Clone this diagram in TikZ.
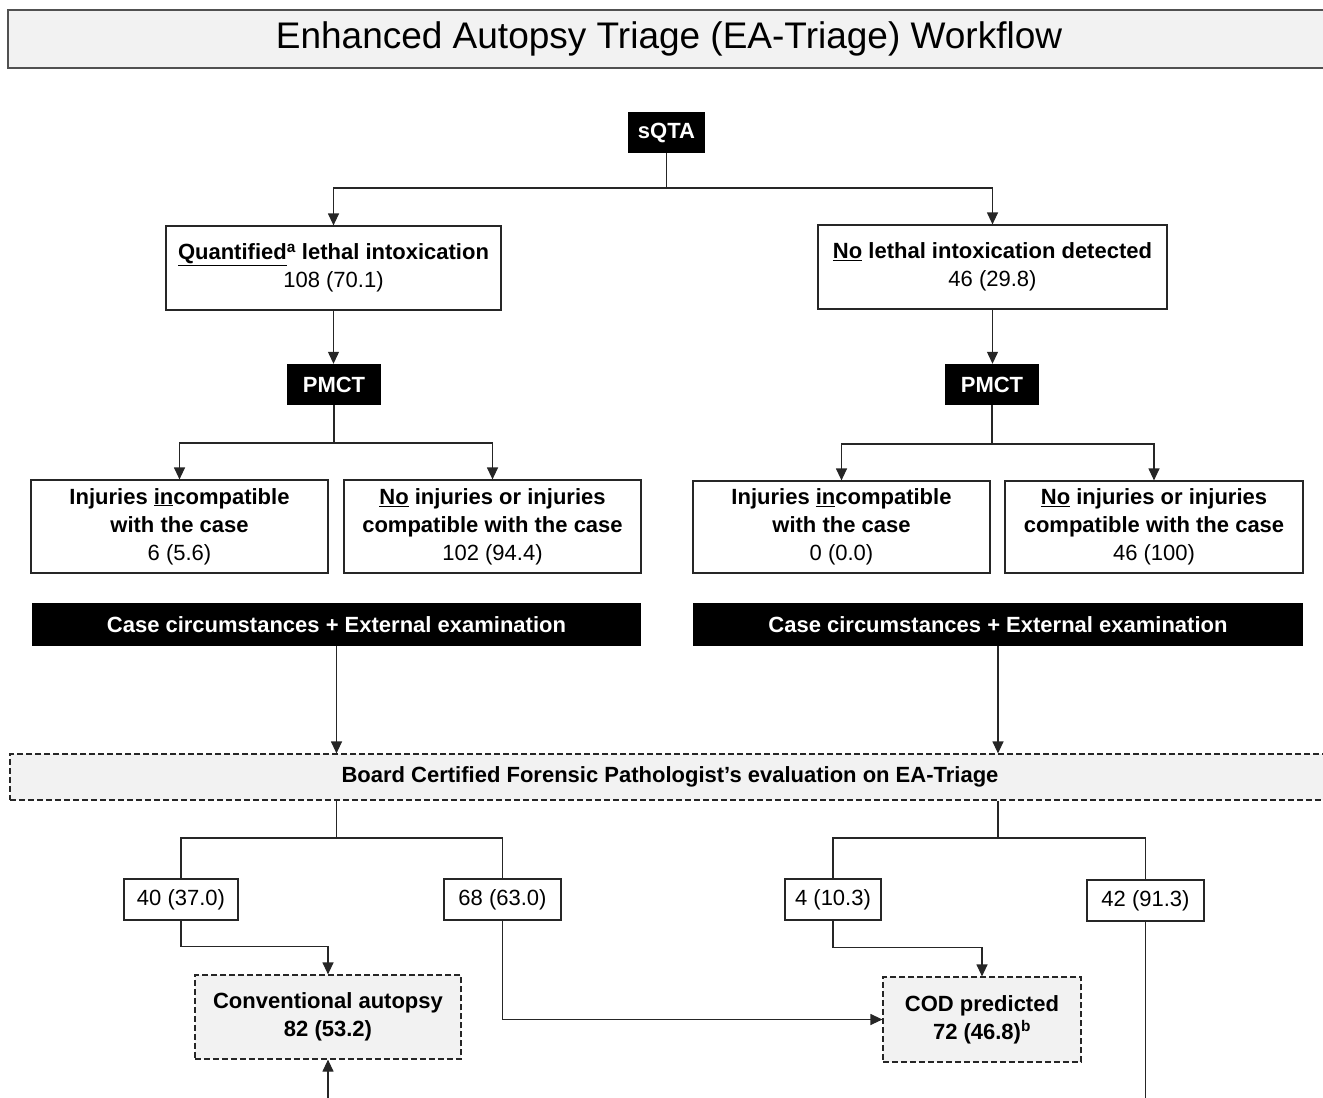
\documentclass[tikz,border=0pt]{standalone}
\usepackage{fontspec}
\setmainfont{Liberation Sans}
\usepackage{tikz}
\usetikzlibrary{arrows.meta,positioning}
\definecolor{boxgray}{HTML}{F2F2F2}
\definecolor{linegray}{HTML}{262626}
\tikzset{
  txt/.style={font=\fontsize{22}{28}\selectfont, inner sep=0pt, align=center},
  wbox/.style={txt, font=\fontsize{22}{28}\selectfont\bfseries, draw=linegray, line width=1.2pt, fill=white},
  numbox/.style={txt, draw=linegray, line width=1.2pt, fill=white, minimum height=41pt},
  bbox/.style={txt, font=\fontsize{22}{28}\selectfont\bfseries, fill=black, text=white, minimum height=41pt},
  gbox/.style={txt, font=\fontsize{22}{28}\selectfont\bfseries, draw=linegray, line width=1.2pt,
    dash pattern=on 6pt off 3pt, fill=boxgray},
  titlebox/.style={txt, font=\fontsize{37}{44}\selectfont, draw=linegray!80, line width=1.4pt, fill=boxgray,
    minimum width=1322pt, minimum height=58pt},
  ln/.style={draw=linegray, line width=1.2pt},
  arr/.style={ln, -{Triangle[length=12pt,width=11pt]}}
}
\begin{document}
\begin{tikzpicture}[x=1pt,y=-1pt]
  \useasboundingbox (0,0) rectangle (1323,1098);
  \node[titlebox] (title) at (669,39) {Enhanced Autopsy Triage (EA-Triage) Workflow};

  \node[bbox, minimum width=77pt] (sqta) at (666.5,132.5) {sQTA};
  \node[wbox, minimum width=335pt, minimum height=84pt] (quant) at (333.5,268)
    {\underline{Quantified}\textsuperscript{a} lethal intoxication\\{\mdseries 108 (70.1)}};
  \node[wbox, minimum width=349pt, minimum height=84pt] (nolethal) at (992.5,267)
    {\underline{No} lethal intoxication detected\\{\mdseries 46 (29.8)}};

  \node[bbox, minimum width=94pt] (pmctL) at (334,384.5) {PMCT};
  \node[bbox, minimum width=94pt] (pmctR) at (992,384.5) {PMCT};

  \node[wbox, minimum width=297pt, minimum height=93pt] (injL1) at (179.5,526.5)
    {Injuries \underline{in}compatible\\with the case\\{\mdseries 6 (5.6)}};
  \node[wbox, minimum width=297pt, minimum height=93pt] (injL2) at (492.5,526.5)
    {\underline{No} injuries or injuries\\compatible with the case\\{\mdseries 102 (94.4)}};
  \node[wbox, minimum width=297pt, minimum height=92pt] (injR1) at (841.5,527)
    {Injuries \underline{in}compatible\\with the case\\{\mdseries 0 (0.0)}};
  \node[wbox, minimum width=298pt, minimum height=92pt] (injR2) at (1154,527)
    {\underline{No} injuries or injuries\\compatible with the case\\{\mdseries 46 (100)}};

  \node[bbox, minimum width=609pt, minimum height=43pt] (caseL) at (336.5,624.5)
    {Case circumstances + External examination};
  \node[bbox, minimum width=610pt, minimum height=43pt] (caseR) at (998,624.5)
    {Case circumstances + External examination};

  \node[gbox, minimum width=1320pt, minimum height=46pt] (board) at (670,777)
    {Board Certified Forensic Pathologist’s evaluation on EA-Triage};

  \node[numbox, minimum width=114pt] (n40) at (181,899.5) {40 (37.0)};
  \node[numbox, minimum width=117pt] (n68) at (502.5,899.5) {68 (63.0)};
  \node[numbox, minimum width=96pt] (n4) at (833,899.5) {4 (10.3)};
  \node[numbox, minimum width=117pt] (n42) at (1145.5,900.5) {42 (91.3)};

  \node[gbox, minimum width=266pt, minimum height=84pt] (conv) at (328,1017)
    {Conventional autopsy\\82 (53.2)};
  \node[gbox, minimum width=198pt, minimum height=85pt] (cod) at (982,1019.5)
    {COD predicted\\72 (46.8)\textsuperscript{b}};

  \coordinate (topsplit) at (666.5,188);
  \coordinate (pmctLsplit) at (334,443);
  \coordinate (pmctRsplit) at (992,444);
  \coordinate (boardLsplit) at (336.5,838);
  \coordinate (boardRsplit) at (998,838);
  \coordinate (convfoot) at (328,1110);
  \coordinate (n42foot) at (1145.5,1110);

  \draw[ln] (sqta.south) -- (topsplit);
  \draw[arr] (topsplit) -| (quant.north);
  \draw[arr] (topsplit) -| (nolethal.north);
  \draw[arr] (quant.south) -- (quant.south |- pmctL.north);
  \draw[arr] (nolethal.south) -- (nolethal.south |- pmctR.north);

  \draw[ln] (pmctL.south) -- (pmctLsplit);
  \draw[arr] (pmctLsplit) -| (injL1.north);
  \draw[arr] (pmctLsplit) -| (injL2.north);
  \draw[ln] (pmctR.south) -- (pmctRsplit);
  \draw[arr] (pmctRsplit) -| (injR1.north);
  \draw[arr] (pmctRsplit) -| (injR2.north);

  \draw[arr] (caseL.south) -- (caseL.south |- board.north);
  \draw[arr] (caseR.south) -- (caseR.south |- board.north);

  \draw[ln] (board.south -| boardLsplit) -- (boardLsplit) -| (n40.north);
  \draw[ln] (boardLsplit) -| (n68.north);
  \draw[ln] (board.south -| boardRsplit) -- (boardRsplit) -| (n4.north);
  \draw[ln] (boardRsplit) -| (n42.north);

  \draw[arr] (n40.south) -- ++(0,26) -| (conv.north);
  \draw[arr] (n68.south) |- (cod.west);
  \draw[arr] (n4.south) -- ++(0,27) -| (cod.north);
  \draw[arr] (convfoot) -- (conv.south);
  \draw[ln] (n42.south) -- (n42foot);
\end{tikzpicture}
\end{document}
